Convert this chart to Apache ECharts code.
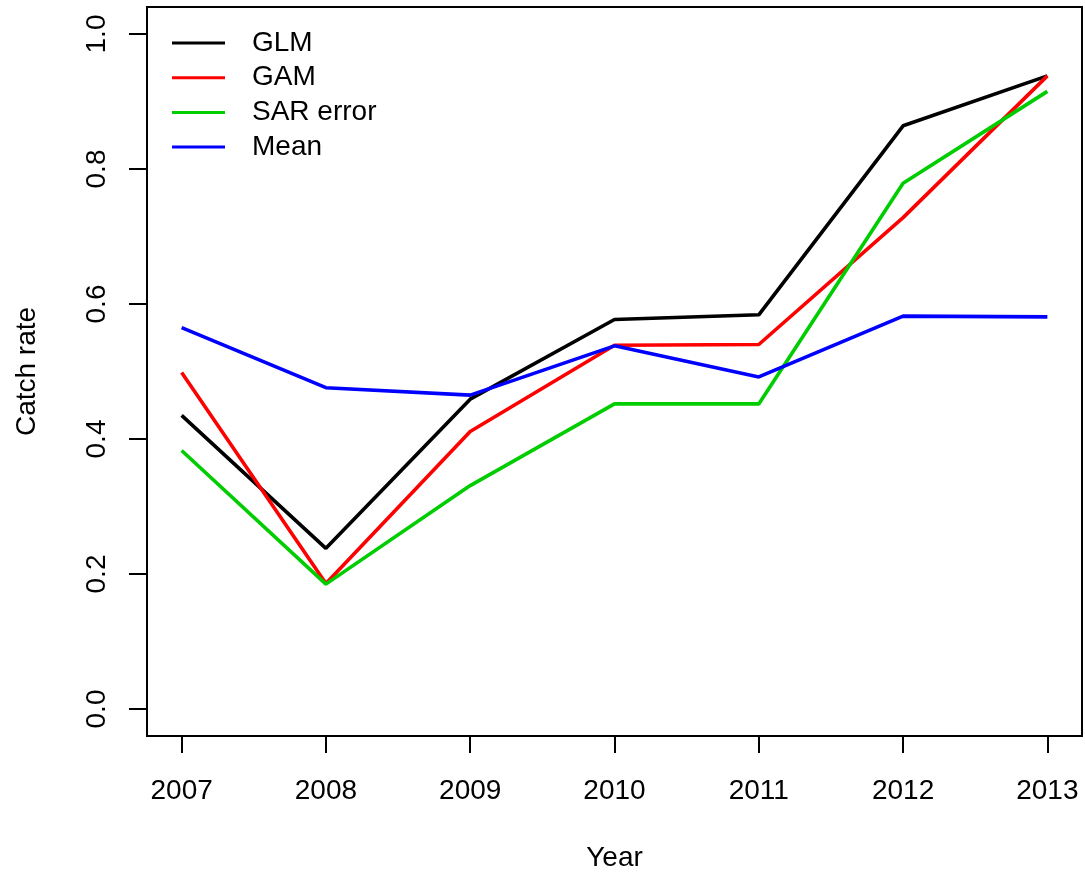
<!DOCTYPE html>
<html>
<head>
<meta charset="utf-8">
<title>Catch rate by year</title>
<script src="https://cdn.jsdelivr.net/npm/echarts@6/dist/echarts.min.js"></script>
<style>
  html, body { margin: 0; padding: 0; background: #fff; }
  #chart { width: 1085px; height: 877px; }
</style>
</head>
<body>
<div id="chart"></div>
<script>
// Years and modelled catch rates
const years = [2007, 2008, 2009, 2010, 2011, 2012, 2013];
const glm = [0.435, 0.238, 0.459, 0.577, 0.584, 0.864, 0.938];
const gam = [0.4985, 0.186, 0.411, 0.539, 0.540, 0.728, 0.938];
const sarError = [0.383, 0.185, 0.331, 0.452, 0.452, 0.779, 0.915];
const meanRate = [0.565, 0.476, 0.465, 0.538, 0.492, 0.582, 0.581];
const yTicks = [0, 0.2, 0.4, 0.6, 0.8, 1.0];

const seriesNames = ['GLM', 'GAM', 'SAR error', 'Mean'];
const seriesValues = [glm, gam, sarError, meanRate];
const seriesColors = ['#000000', '#FF0000', '#00CD00', '#0000FF'];

const FONT = '"Liberation Sans", Arial, Helvetica, sans-serif';
const FS = 28;

const chart = echarts.init(document.getElementById('chart'), null, { renderer: 'canvas' });

chart.setOption({
  animation: false,
  backgroundColor: '#ffffff',
  textStyle: { fontFamily: FONT, color: '#000' },
  grid: {
    left: 147, top: 7, width: 935, height: 730,
    show: true, borderColor: '#000', borderWidth: 2,
    backgroundColor: 'transparent'
  },
  legend: {
    left: 172, top: 28, orient: 'vertical',
    padding: 0, itemGap: 4.7,
    itemWidth: 53, itemHeight: 3, icon: 'rect',
    data: seriesNames,
    textStyle: { fontFamily: FONT, fontSize: FS, color: '#000', lineHeight: 30, padding: [0, 0, 0, 22] }
  },
  xAxis: {
    type: 'value',
    min: 2006.76, max: 2013.24,
    name: 'Year', nameLocation: 'middle', nameGap: 108,
    nameTextStyle: { fontFamily: FONT, fontSize: FS, color: '#000' },
    axisLine: { show: false, onZero: false },
    splitLine: { show: false },
    axisTick: { show: true, customValues: years, length: 17, lineStyle: { color: '#000', width: 2 } },
    axisLabel: {
      customValues: years, margin: 41,
      fontFamily: FONT, fontSize: FS, color: '#000',
      formatter: v => String(v)
    }
  },
  yAxis: {
    type: 'value',
    min: -0.04, max: 1.04,
    name: 'Catch rate', nameLocation: 'middle', nameGap: 106, nameRotate: 90,
    nameTextStyle: { fontFamily: FONT, fontSize: FS, color: '#000' },
    axisLine: { show: false, onZero: false },
    splitLine: { show: false },
    axisTick: { show: true, customValues: yTicks, length: 18, lineStyle: { color: '#000', width: 2 } },
    axisLabel: {
      customValues: yTicks, rotate: 90, margin: 36,
      fontFamily: FONT, fontSize: FS, color: '#000',
      formatter: v => v.toFixed(1)
    }
  },
  series: seriesNames.map((name, i) => ({
    name,
    type: 'line',
    data: years.map((yr, j) => [yr, seriesValues[i][j]]),
    symbol: 'none',
    color: seriesColors[i],
    lineStyle: { color: seriesColors[i], width: 3.6 },
    emphasis: { disabled: true }
  }))
});
</script>
</body>
</html>
